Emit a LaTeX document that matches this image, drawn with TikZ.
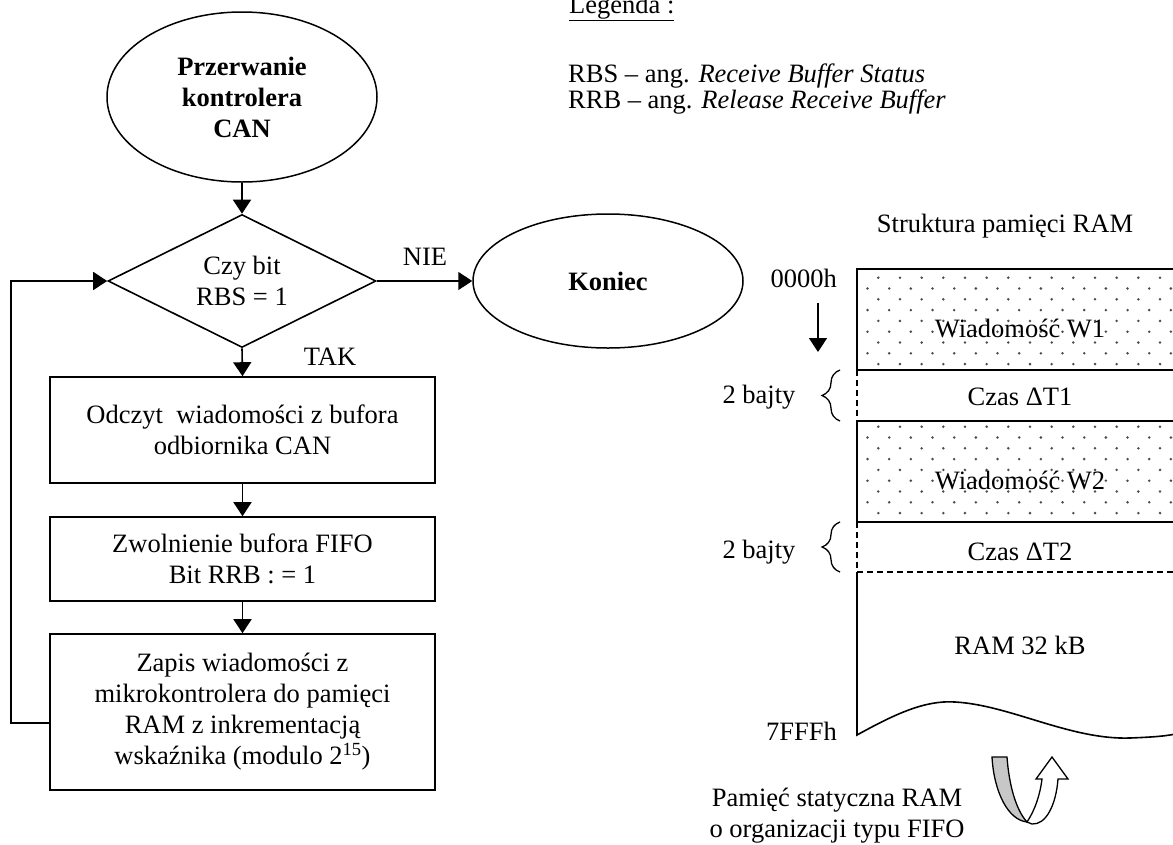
\documentclass[tikz,border=0pt]{standalone}
\usepackage{fontspec}
\setmainfont{Liberation Serif}
\usetikzlibrary{shapes.geometric,arrows.meta,decorations.pathreplacing}
\begin{document}
\begin{tikzpicture}[x=1pt,y=-1pt,
  font=\fontsize{26.5}{31}\selectfont,
  term/.style={ellipse, draw, line width=1.5pt, align=center, inner sep=0pt,
    font=\fontsize{26.5}{31}\selectfont\bfseries},
  decbox/.style={diamond, draw, line width=1.6pt, aspect=2, inner sep=0pt, align=center,
    minimum width=268pt, minimum height=133pt},
  proc/.style={rectangle, draw, line width=1.6pt, align=center, minimum width=385pt, inner sep=0pt},
  flow/.style={-{Triangle[length=14pt,width=18pt]}, line width=1.6pt},
  mem/.style={line width=1.6pt},
  memdash/.style={line width=1.6pt, dash pattern=on 6pt off 4pt},
  lbl/.style={inner sep=0pt},
  dotc/.style={fill=black!70},
  bracestyle/.style={decorate, decoration={brace, amplitude=18pt}, line width=1.3pt}
]
\useasboundingbox (0,0) rectangle (1173,844);
\clip (0,0) rectangle (1173,844);

% ---- flowchart ----
\node[term, minimum width=270pt, minimum height=170pt] (start) at (242,97) {Przerwanie\\kontrolera\\CAN};
\node[decbox] (dec) at (242,281) {Czy bit\\RBS = 1};
\node[term, minimum width=270pt, minimum height=134pt] (end) at (608,281) {Koniec};
\node[proc, minimum height=106pt] (b1) at (242.5,430) {Odczyt\ \ wiadomości z bufora\\odbiornika CAN};
\node[proc, minimum height=84pt] (b2) at (242.5,559) {Zwolnienie bufora FIFO\\Bit RRB : = 1};
\node[proc, minimum height=156pt] (b3) at (242.5,712) {Zapis wiadomości z\\mikrokontrolera do pamięci\\RAM z inkrementacją\\wskaźnika (modulo 2\textsuperscript{15})};

\node[lbl] (nie) at (425,257) {NIE};
\node[lbl] (tak) at (330,357) {TAK};

\draw[flow] (start.south) -- (dec.north);
\draw[flow] (dec.east) -- (end.west);
\draw[flow] (dec.south) -- (b1.north);
\draw[flow] (b1.south) -- (b2.north);
\draw[flow] (b2.south) -- (b3.north);
\draw[flow] ([yshift=-11pt]b3.west) -- ++(-38,0) |- (dec.west);

% ---- legend ----
\node[lbl, anchor=base west] (leg) at (569,13) {\underline{Legenda :}};
\node[lbl, anchor=base west] (rbs) at (568,82) {RBS – ang. \textit{Receive Buffer Status}};
\node[lbl, anchor=base west] (rrb) at (568,108) {RRB – ang. \textit{Release Receive Buffer}};

% ---- memory structure ----
\node[lbl] (title) at (1005,226) {Struktura pamięci RAM};

\begin{scope}
  \clip (857,269) rectangle (1173,370);
  \foreach \r in {0,...,8} {
    \pgfmathsetmacro\yy{277.7+10.8*\r}
    \pgfmathsetmacro\xo{mod(\r,2)==0 ? 878.3 : 867.5}
    \foreach \c in {0,...,14} { \fill[dotc] (\xo+21.67*\c,\yy) circle[radius=1.4pt]; }
  }
\end{scope}
\begin{scope}
  \clip (857,421) rectangle (1173,522);
  \foreach \r in {0,...,8} {
    \pgfmathsetmacro\yy{426.7+10.8*\r}
    \pgfmathsetmacro\xo{mod(\r,2)==0 ? 878.3 : 867.5}
    \foreach \c in {0,...,14} { \fill[dotc] (\xo+21.67*\c,\yy) circle[radius=1.4pt]; }
  }
\end{scope}

\draw[mem] (1173,269) -- (857,269) -- (857,370) -- (1173,370);
\draw[mem] (1173,421) -- (857,421) -- (857,522) -- (1173,522);
\draw[memdash] (857,370) -- (857,421);
\draw[memdash] (857,522) -- (857,572);
\draw[memdash] (857,572) -- (1173,572);
\draw[mem] (857,572) -- (857,735)
  .. controls (895,714) and (925,700) .. (955,702)
  .. controls (1010,705) and (1070,740) .. (1130,738)
  .. controls (1155,737) and (1168,736) .. (1180,733);

\node[lbl] (w1) at (1020,328) {Wiadomość W1};
\node[lbl] (t1) at (1020,397) {Czas ΔT1};
\node[lbl] (w2) at (1020,480) {Wiadomość W2};
\node[lbl] (t2) at (1020,552) {Czas ΔT2};
\node[lbl] (ram) at (1020,645) {RAM 32 kB};

\node[lbl, anchor=east] (a0) at (837,278) {0000h};
\node[lbl, anchor=east] (a7) at (837,731) {7FFFh};
\coordinate (ar1) at (818,303);
\coordinate (ar2) at (818,352);
\draw[flow] (ar1) -- (ar2);

\node[lbl] (by1) at (759,397) {2 bajty};
\node[lbl] (by2) at (759,552) {2 bajty};
\draw[bracestyle] (840,421) -- (840,370);
\draw[bracestyle] (840,572) -- (840,522);

% ---- FIFO U-arrow ----
\draw[line width=1.3pt, fill=black!22] (992,757) -- (1007,757)
  .. controls (1009,785) and (1016,810) .. (1027,822)
  .. controls (1008,820) and (994,792) .. cycle;
\draw[line width=1.3pt, fill=white] (1027,822)
  .. controls (1035,810) and (1040,795) .. (1042,779)
  -- (1036,779) -- (1052,757) -- (1068,779) -- (1058,779)
  .. controls (1056,805) and (1046,825) .. (1032,824)
  -- cycle;

\node[lbl, align=center] (fifo) at (837,816) {Pamięć statyczna RAM\\o organizacji typu FIFO};
\end{tikzpicture}
\end{document}
